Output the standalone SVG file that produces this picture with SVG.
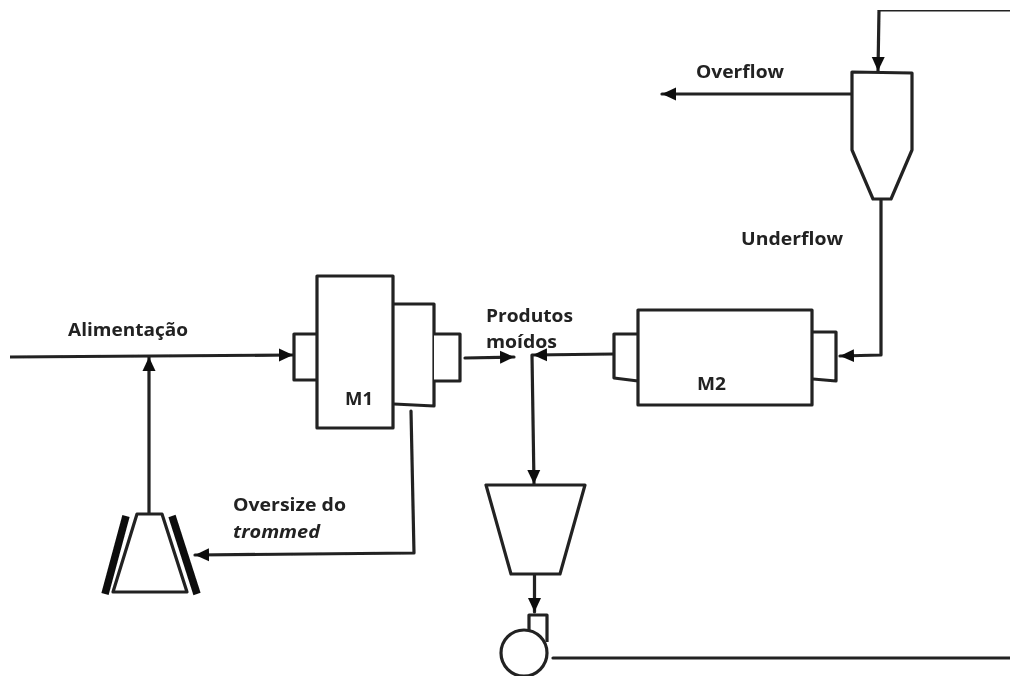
<svg xmlns="http://www.w3.org/2000/svg" width="1010" height="678" viewBox="0 0 1010 678">
<style>
.s{fill:none;stroke:#222;stroke-width:3.2;stroke-linejoin:round;stroke-linecap:round}
.f{fill:#fff;stroke:#222;stroke-width:3.2;stroke-linejoin:round}
.t{font-family:"Open Sans","Noto Sans","Liberation Sans",sans-serif;font-weight:700;font-size:17.500px;fill:#222}
.i{font-style:italic}
.b{fill:none;stroke:#111;stroke-width:7.5}
</style>
<defs>
<marker id="a" markerUnits="userSpaceOnUse" markerWidth="15" markerHeight="16" refX="14" refY="8" orient="auto"><path d="M0 1.500 L14 8 L0 14.500 Z" fill="#111"/></marker>
<filter id="soft" x="0" y="0" width="100%" height="100%"><feGaussianBlur stdDeviation="0.5"/></filter>
</defs>
<rect width="1010" height="678" fill="#fff"/>
<g filter="url(#soft)">
<g id="connectors">
<path class="s" d="M10 357 L293 355" marker-end="url(#a)"/>
<path class="s" d="M149 514 V357" marker-end="url(#a)"/>
<path class="s" d="M411 411 L414 553 L195 555" marker-end="url(#a)"/>
<path class="s" d="M465 358 L514 357" marker-end="url(#a)"/>
<path class="s" d="M614 354 L533 355" marker-end="url(#a)"/>
<path class="s" d="M532 355 L534 484" marker-end="url(#a)"/>
<path class="s" d="M534.500 574 V612" marker-end="url(#a)"/>
<path class="s" d="M553 658 H1010"/>
<path class="s" d="M881 200 V355 L840 356" marker-end="url(#a)"/>
<path class="s" d="M1010 10 H879 L878 71" marker-end="url(#a)"/>
<path class="s" d="M851 94 H662" marker-end="url(#a)"/>
</g>
<g id="m1">
<path class="f" d="M316 334 H294 V380 H316"/>
<path class="f" d="M394 304 H434 V406 L394 404"/>
<path class="f" d="M434 334 H460 V381 H434"/>
<rect class="f" x="317" y="276" width="76" height="152"/>
<text class="t" x="345" y="405" textLength="28" lengthAdjust="spacingAndGlyphs">M1</text>
</g>
<g id="m2">
<path class="f" d="M638 334 H614 V378 L638 381"/>
<path class="f" d="M813 332 H836 V381 L813 379"/>
<rect class="f" x="638" y="310" width="174" height="95"/>
<text class="t" x="697" y="390" textLength="29" lengthAdjust="spacingAndGlyphs">M2</text>
</g>
<g id="crusher">
<path class="f" d="M137 514 H162 L187 592 H113 Z"/>
<path class="b" d="M126 516 L105 594"/>
<path class="b" d="M172 516 L197 594"/>
</g>
<g id="cyclone">
<path class="f" d="M852 72 L912 73 V150 L891 199 H873 L852 150 Z"/>
</g>
<g id="sump">
<path class="f" d="M486 485 H585 L560 574 H511 Z"/>
</g>
<g id="pump">
<path class="f" d="M529 642 V615 H547 V642"/>
<circle class="f" cx="524" cy="653" r="23"/>
</g>
<g id="labels">
<text class="t" x="68" y="336" textLength="120" lengthAdjust="spacingAndGlyphs">Alimentação</text>
<text class="t" x="233" y="511" textLength="113" lengthAdjust="spacingAndGlyphs">Oversize do</text>
<text class="t i" x="233" y="538" textLength="87" lengthAdjust="spacingAndGlyphs">trommed</text>
<text class="t" x="486" y="322" textLength="87" lengthAdjust="spacingAndGlyphs">Produtos</text>
<text class="t" x="486" y="348" textLength="71" lengthAdjust="spacingAndGlyphs">moídos</text>
<text class="t" x="696" y="78" textLength="88" lengthAdjust="spacingAndGlyphs">Overflow</text>
<text class="t" x="741" y="245" textLength="102" lengthAdjust="spacingAndGlyphs">Underflow</text>
</g>
</g>
</svg>
